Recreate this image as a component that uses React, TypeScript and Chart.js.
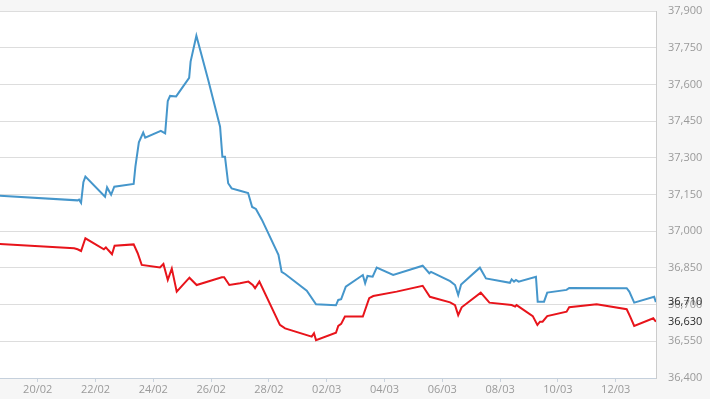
import React, { useEffect, useRef } from "react";
import { Chart, registerables } from "chart.js";

Chart.register(...registerables);

// x = days after 20/02
const blueDays = [-1.31, 1.38, 1.43, 1.5, 1.58, 1.65, 2.33, 2.4, 2.54, 2.65, 3.32, 3.38, 3.5, 3.65, 3.72, 4.26, 4.41, 4.5, 4.58, 4.79, 5.24, 5.29, 5.49, 5.9, 6.31, 6.39, 6.48, 6.59, 6.71, 7.0, 7.28, 7.42, 7.55, 7.76, 8.33, 8.44, 8.56, 9.31, 9.63, 10.32, 10.4, 10.5, 10.66, 11.25, 11.33, 11.41, 11.59, 11.73, 12.3, 13.32, 13.55, 13.61, 14.27, 14.44, 14.55, 14.65, 15.3, 15.51, 16.34, 16.4, 16.48, 16.55, 16.64, 17.24, 17.3, 17.52, 17.63, 18.3, 18.39, 20.38, 20.47, 20.64, 21.33, 21.39];
const blueValues = [37145, 37126, 37129, 37116, 37200, 37223, 37141, 37179, 37149, 37182, 37193, 37264, 37363, 37403, 37382, 37410, 37400, 37532, 37553, 37551, 37627, 37693, 37799, 37618, 37427, 37304, 37304, 37196, 37175, 37165, 37156, 37099, 37091, 37046, 36903, 36834, 36825, 36757, 36701, 36697, 36719, 36722, 36773, 36821, 36787, 36817, 36814, 36851, 36821, 36859, 36828, 36834, 36796, 36780, 36739, 36782, 36851, 36807, 36789, 36803, 36794, 36801, 36794, 36814, 36712, 36712, 36749, 36760, 36768, 36767, 36753, 36708, 36732, 36710];

const redDays = [-1.31, 1.26, 1.38, 1.5, 1.65, 2.29, 2.36, 2.44, 2.57, 2.66, 3.32, 3.46, 3.6, 4.23, 4.35, 4.5, 4.64, 4.81, 5.25, 5.5, 6.37, 6.45, 6.63, 7.0, 7.29, 7.44, 7.52, 7.67, 8.38, 8.56, 9.48, 9.56, 9.63, 10.32, 10.4, 10.5, 10.63, 11.25, 11.47, 11.61, 12.42, 13.32, 13.57, 14.27, 14.44, 14.55, 14.67, 15.33, 15.63, 16.4, 16.52, 16.57, 17.13, 17.29, 17.38, 17.47, 17.63, 18.3, 18.39, 19.34, 20.38, 20.5, 20.64, 21.3, 21.39];
const redValues = [36948, 36930, 36926, 36919, 36971, 36926, 36934, 36923, 36906, 36941, 36946, 36910, 36862, 36852, 36866, 36801, 36847, 36753, 36810, 36780, 36812, 36812, 36780, 36787, 36794, 36780, 36767, 36794, 36617, 36603, 36569, 36583, 36555, 36585, 36613, 36621, 36651, 36651, 36726, 36735, 36753, 36777, 36732, 36709, 36698, 36657, 36689, 36749, 36708, 36698, 36692, 36698, 36653, 36617, 36630, 36630, 36653, 36671, 36689, 36701, 36681, 36651, 36613, 36644, 36630];

const tickDays = [0, 2, 4, 6, 8, 10, 12, 14, 16, 18, 20];
const tickLabels = ["20/02", "22/02", "24/02", "26/02", "28/02", "02/03", "04/03", "06/03", "08/03", "10/03", "12/03"];

const yMin = 36400;
const yMax = 37900;
const yStep = 150;
const xMin = -1.305;
const xMax = 21.394;

const BLUE = "#4596cb";
const RED = "#e8141b";
const FONT = "'Open Sans', sans-serif";

const fmt = (v: number) => Math.round(v).toLocaleString("en-US");

export default function App() {
  const ref = useRef<HTMLCanvasElement | null>(null);

  useEffect(() => {
    document.body.style.margin = "0";
    const canvas = ref.current;
    if (!canvas) return;

    const bgPlugin = {
      id: "bg",
      beforeDraw(chart: any) {
        const { ctx, chartArea, width, height } = chart;
        ctx.save();
        ctx.fillStyle = "#f6f6f6";
        ctx.fillRect(0, 0, width, height);
        ctx.fillStyle = "#ffffff";
        ctx.fillRect(chartArea.left, chartArea.top, chartArea.right - chartArea.left, chartArea.bottom - chartArea.top);
        ctx.restore();
      },
    };

    const lastLabelPlugin = {
      id: "lastLabels",
      afterDraw(chart: any) {
        const { ctx, chartArea, scales } = chart;
        const y = scales.y;
        ctx.save();
        ctx.font = `11px ${FONT}`;
        ctx.fillStyle = "#2a2a2a";
        ctx.textAlign = "left";
        ctx.textBaseline = "middle";
        const vals = [blueValues[blueValues.length - 1], redValues[redValues.length - 1]];
        vals.forEach((v) => {
          ctx.fillText(fmt(v), chartArea.right + 12, y.getPixelForValue(v));
        });
        ctx.restore();
      },
    };

    const chart = new Chart(canvas, {
      type: "line",
      data: {
        datasets: [
          {
            data: blueDays.map((d, i) => ({ x: d, y: blueValues[i] })),
            borderColor: BLUE,
            borderWidth: 2,
            pointRadius: 0,
            tension: 0,
            fill: false,
          },
          {
            data: redDays.map((d, i) => ({ x: d, y: redValues[i] })),
            borderColor: RED,
            borderWidth: 2,
            pointRadius: 0,
            tension: 0,
            fill: false,
          },
        ],
      },
      options: {
        responsive: false,
        animation: false,
        layout: { padding: { top: 0, left: 0, right: 0, bottom: 0 } },
        plugins: {
          legend: { display: false },
          tooltip: { enabled: false },
        },
        scales: {
          x: {
            type: "linear",
            min: xMin,
            max: xMax,
            afterBuildTicks(scale: any) {
              scale.ticks = tickDays.map((v) => ({ value: v }));
            },
            afterFit(scale: any) {
              scale.height = 21;
            },
            grid: {
              drawOnChartArea: false,
              drawTicks: true,
              tickLength: 4,
              color: "#c9d2dc",
            },
            border: { display: true, color: "#c5d0dc", width: 1 },
            ticks: {
              padding: 1,
              maxRotation: 0,
              autoSkip: false,
              color: "#9a9a9a",
              font: { family: FONT, size: 11 },
              callback: (v: any) => {
                const i = tickDays.indexOf(Number(v));
                return i >= 0 ? tickLabels[i] : "";
              },
            },
          },
          y: {
            position: "right",
            min: yMin,
            max: yMax,
            afterFit(scale: any) {
              scale.width = 54;
              scale.paddingTop = 11;
              scale.paddingBottom = 7;
            },
            grid: {
              color: "#dddddd",
              drawTicks: false,
            },
            border: { display: true, color: "#cccccc", width: 1 },
            ticks: {
              stepSize: yStep,
              padding: 12,
              color: "#9a9a9a",
              font: { family: FONT, size: 11 },
              callback: (v: any) => fmt(Number(v)),
            },
          },
        },
      },
      plugins: [bgPlugin, lastLabelPlugin],
    } as any);

    return () => chart.destroy();
  }, []);

  return (
    <div style={{ position: "absolute", left: 0, top: 0, width: 710, height: 399 }}>
      <canvas ref={ref} width={710} height={399} style={{ display: "block" }} />
    </div>
  );
}
